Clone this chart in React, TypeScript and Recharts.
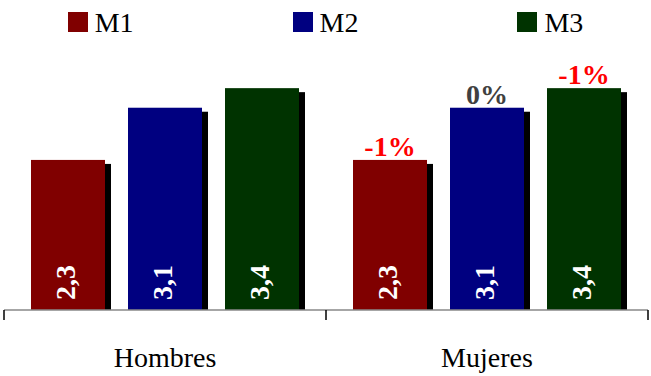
import React from 'react';
import { BarChart, Bar, XAxis, YAxis, LabelList } from 'recharts';

const categories = ['Hombres', 'Mujeres'];
const seriesNames = ['M1', 'M2', 'M3'];
const seriesColors = ['#800000', '#000080', '#003300'];

// valores medios por grupo
const m1Values = [2.3, 2.3];
const m2Values = [3.1, 3.1];
const m3Values = [3.4, 3.4];

// variación porcentual (solo Mujeres)
const m1Change = [null, -1];
const m2Change = [null, 0];
const m3Change = [null, -1];

const FONT = 'Liberation Serif, Tinos, Times New Roman, serif';

const chartData = categories.map((name, i) => ({
  name,
  M1: m1Values[i],
  M2: m2Values[i],
  M3: m3Values[i],
  M1c: m1Change[i],
  M2c: m2Change[i],
  M3c: m3Change[i],
}));

// barra con sombra negra desplazada
const ShadowBar = (props: any) => {
  const { x, y, width, height, fill } = props;
  if (!height || height <= 0) return <g />;
  return (
    <g>
      <rect x={x + 6} y={y + 4} width={width} height={height - 4} fill="#000" />
      <rect x={x} y={y} width={width} height={height} fill={fill} />
    </g>
  );
};

const fmt = (v: number) => v.toFixed(1).replace('.', ',');

// valor vertical dentro de la barra
const renderInside = (props: any) => {
  const { x, y, width, height, value } = props;
  const px = x + width / 2 + 7;
  const py = y + height - 10;
  return (
    <text
      x={px}
      y={py}
      transform={`rotate(-90 ${px} ${py})`}
      fill="#fff"
      style={{ fontFamily: FONT, fontWeight: 'bold', fontSize: 28 }}
      textAnchor="start"
    >
      {fmt(value)}
    </text>
  );
};

// variación encima de la barra
const renderChange = (props: any) => {
  const { x, y, width, value } = props;
  if (value === null || value === undefined) return <g />;
  return (
    <text
      x={x + width / 2}
      y={y - 4}
      fill={value < 0 ? '#FF0000' : '#404040'}
      style={{ fontFamily: FONT, fontWeight: 'bold', fontSize: 28 }}
      textAnchor="middle"
    >
      {`${value}%`}
    </text>
  );
};

const CategoryTick = (props: any) => {
  const { x, y, payload, index } = props;
  const half = payload && payload.offset ? payload.offset : 161;
  return (
    <g>
      <line x1={x - half} y1={y - 10} x2={x - half} y2={y} stroke="#000" strokeWidth={1.5} />
      {index === categories.length - 1 && (
        <line x1={x + half} y1={y - 10} x2={x + half} y2={y} stroke="#000" strokeWidth={1.5} />
      )}
      <text x={x} y={y + 47} textAnchor="middle" fill="#000" style={{ fontFamily: FONT, fontSize: 28 }}>
        {payload.value}
      </text>
    </g>
  );
};

const App: React.FC = () => {
  return (
    <div style={{ position: 'absolute', left: 0, top: 0, width: 651, height: 376, background: '#fff' }}>
      <div style={{
        position: 'absolute',
        top: 9,
        left: 0,
        width: 651,
        display: 'flex',
        justifyContent: 'center',
        gap: 159,
        fontFamily: FONT,
        fontSize: 28,
        lineHeight: '28px',
        color: '#000',
      }}>
        {seriesNames.map((n, i) => (
          <div key={n} style={{ display: 'flex', alignItems: 'flex-start' }}>
            <div style={{ width: 20, height: 20, marginTop: 3, marginRight: 7, background: seriesColors[i] }} />
            <span>{n}</span>
          </div>
        ))}
      </div>
      <BarChart
        width={651}
        height={376}
        data={chartData}
        margin={{ top: 49, right: 3, left: 4, bottom: 0 }}
        barSize={74}
        barGap={23}
      >
        <XAxis
          dataKey="name"
          height={66}
          axisLine={{ stroke: '#888', strokeWidth: 1.5 }}
          tickLine={false}
          tickSize={10}
          tickMargin={0}
          tick={<CategoryTick />}
          interval={0}
        />
        <YAxis hide domain={[0, 4]} />
        {seriesNames.map((n, i) => (
          <Bar key={n} dataKey={n} fill={seriesColors[i]} shape={ShadowBar} isAnimationActive={false}>
            <LabelList dataKey={n} content={renderInside} />
            <LabelList dataKey={`${n}c`} content={renderChange} />
          </Bar>
        ))}
      </BarChart>
    </div>
  );
};

export default App;
